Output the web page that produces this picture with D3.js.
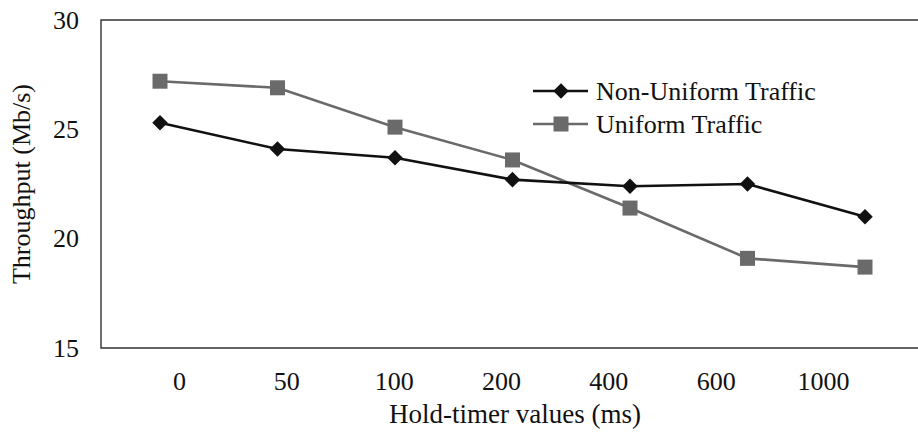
<!DOCTYPE html>
<html>
<head>
<meta charset="utf-8">
<script src="https://cdn.jsdelivr.net/npm/d3@7"></script>
<style>
  html, body { margin: 0; padding: 0; background: #fff; }
  svg { display: block; }
  svg text { font-family: "Liberation Serif", "Times New Roman", Times, "DejaVu Serif", serif; fill: #111; }
</style>
</head>
<body>
<svg id="chart" width="918" height="433"></svg>
<script>
// Hold-timer settings (x categories)
const holdTimers = ["0", "50", "100", "200", "400", "600", "1000"];
// Throughput in Mb/s for each hold-timer setting
const nonUniform = [25.3, 24.1, 23.7, 22.7, 22.4, 22.5, 21.0];
const uniform = [27.2, 26.9, 25.1, 23.6, 21.4, 19.1, 18.7];
const yTicks = [15, 20, 25, 30];
const seriesNames = ["Non-Uniform Traffic", "Uniform Traffic"];

const serif = "'Liberation Serif', 'Times New Roman', Times, 'DejaVu Serif', serif";
const svg = d3.select("#chart").attr("font-family", serif);
const frame = { left: 101, right: 918, top: 20, bottom: 348 };

const y = d3.scaleLinear().domain([15, 30]).range([frame.bottom, frame.top]);
// marker positions
const x = d3.scalePoint().domain(holdTimers).range([160, 865]);
// category label positions along the bottom
const xLabel = d3.scalePoint().domain(holdTimers).range([179, 823]);

// plot frame: top, left and bottom edges
svg.append("path")
  .attr("d", `M${frame.right},${frame.top}H${frame.left}V${frame.bottom}H${frame.right}`)
  .attr("fill", "none")
  .attr("stroke", "#333")
  .attr("stroke-width", 1.4);

// y axis labels
const yAxis = svg.append("g")
  .attr("transform", `translate(${frame.left},0)`)
  .call(d3.axisLeft(y).tickValues(yTicks).tickSize(0).tickPadding(22))
  .attr("font-family", serif);
yAxis.select(".domain").remove();
yAxis.selectAll("text").attr("font-size", 26).attr("fill", "#111")
  .attr("font-family", serif);

// x axis labels
const xAxis = svg.append("g")
  .attr("transform", `translate(0,${frame.bottom})`)
  .call(d3.axisBottom(xLabel).tickSize(0).tickPadding(24))
  .attr("font-family", serif);
xAxis.select(".domain").remove();
xAxis.selectAll("text").attr("font-size", 26).attr("fill", "#111")
  .attr("font-family", serif);

// axis titles
svg.append("text")
  .attr("x", 515).attr("y", 423)
  .attr("text-anchor", "middle")
  .attr("font-family", serif)
  .attr("font-size", 27)
  .text("Hold-timer values (ms)");

svg.append("text")
  .attr("transform", `translate(30,${(frame.top + frame.bottom) / 2}) rotate(-90)`)
  .attr("text-anchor", "middle")
  .attr("font-family", serif)
  .attr("font-size", 26)
  .text("Throughput (Mb/s)");

const line = d3.line().x((d, i) => x(holdTimers[i])).y(d => y(d));

const series = [
  { name: seriesNames[0], values: nonUniform, color: "#111", marker: "diamond" },
  { name: seriesNames[1], values: uniform, color: "#6a6a6a", marker: "square" }
];

// diamond = square turned 45 degrees
function markerPath(kind) {
  return kind === "diamond"
    ? d3.symbol().type(d3.symbolSquare).size(121)()
    : d3.symbol().type(d3.symbolSquare).size(225)();
}
function markerRotate(kind) { return kind === "diamond" ? " rotate(45)" : ""; }

// draw uniform first so the non-uniform line sits on top
[series[1], series[0]].forEach(s => {
  svg.append("path")
    .datum(s.values)
    .attr("d", line)
    .attr("fill", "none")
    .attr("stroke", s.color)
    .attr("stroke-width", 2.6);
  svg.append("g").selectAll("path")
    .data(s.values)
    .join("path")
    .attr("transform", (d, i) => `translate(${x(holdTimers[i])},${y(d)})${markerRotate(s.marker)}`)
    .attr("d", markerPath(s.marker))
    .attr("fill", s.color);
});

// legend
const legend = svg.append("g").attr("transform", "translate(533,91)");
series.forEach((s, i) => {
  const g = legend.append("g").attr("transform", `translate(0,${i * 33})`);
  g.append("line").attr("x1", 0).attr("x2", 55).attr("y1", 0).attr("y2", 0)
    .attr("stroke", s.color).attr("stroke-width", 2.6);
  g.append("path").attr("transform", `translate(28,0)${markerRotate(s.marker)}`)
    .attr("d", markerPath(s.marker)).attr("fill", s.color);
  g.append("text").attr("x", 63).attr("y", 0).attr("dy", "0.35em")
    .attr("font-family", serif)
    .attr("font-size", 26).text(s.name);
});
</script>
</body>
</html>
